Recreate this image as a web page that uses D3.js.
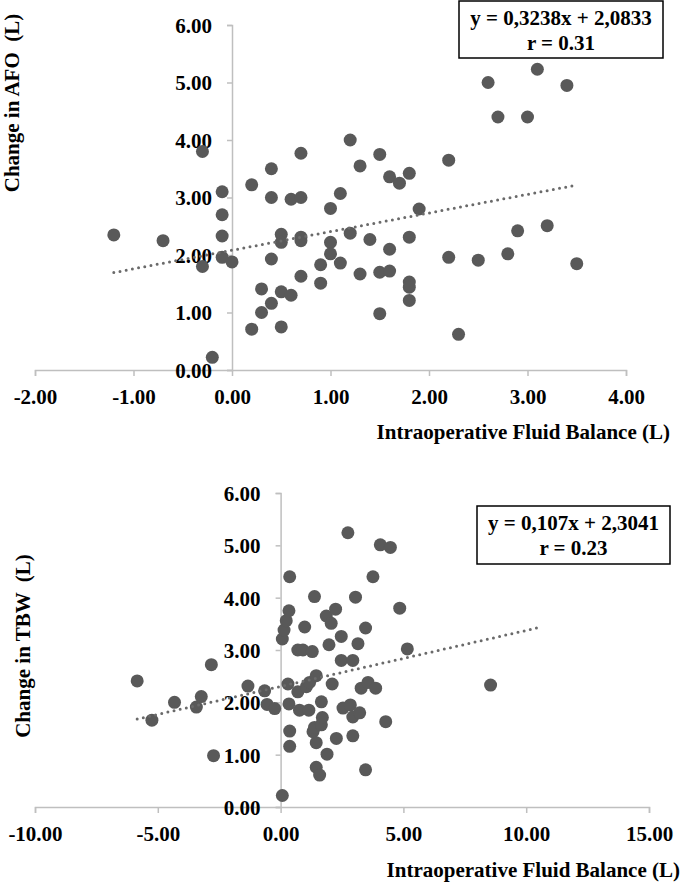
<!DOCTYPE html>
<html>
<head>
<meta charset="utf-8">
<script src="https://cdn.jsdelivr.net/npm/d3@7"></script>
<style>
  body { margin: 0; background: #fff; }
  text { font-family: "Liberation Serif", "Times New Roman", serif; font-weight: bold; fill: #000; }
</style>
</head>
<body>
<script>
// top panel: change in AFO vs intraoperative fluid balance
const afoX = [-1.2, -0.7, -0.3, -0.3, -0.2, -0.1, -0.1, -0.1, -0.1, 0.0,
  0.2, 0.2, 0.3, 0.3, 0.4, 0.4, 0.4, 0.4, 0.5, 0.5, 0.5, 0.5,
  0.6, 0.6, 0.7, 0.7, 0.7, 0.7, 0.7, 0.9, 0.9, 1.0, 1.0, 1.0,
  1.1, 1.1, 1.2, 1.2, 1.3, 1.3, 1.4, 1.5, 1.5, 1.5, 1.6, 1.6, 1.6,
  1.7, 1.8, 1.8, 1.8, 1.8, 1.8, 1.9, 2.2, 2.2, 2.3, 2.5, 2.6, 2.7,
  2.8, 2.9, 3.0, 3.1, 3.2, 3.4, 3.5];
const afoY = [2.35, 2.25, 3.8, 1.8, 0.22, 3.1, 2.7, 2.33, 1.96, 1.88,
  3.22, 0.71, 1.41, 1.0, 3.5, 3.0, 1.93, 1.16, 2.36, 2.22, 1.36, 0.75,
  2.97, 1.3, 3.77, 3.0, 2.31, 2.25, 1.63, 1.83, 1.51, 2.81, 2.22, 2.02,
  3.07, 1.86, 4.0, 2.38, 3.55, 1.67, 2.27, 3.75, 1.7, 0.98, 3.36, 2.1, 1.72,
  3.25, 3.42, 2.31, 1.53, 1.44, 1.21, 2.8, 3.65, 1.96, 0.62, 1.91, 5.0, 4.4,
  2.02, 2.42, 4.4, 5.23, 2.51, 4.95, 1.85];
const afoFit = { slope: 0.3238, intercept: 2.0833, from: -1.2, to: 3.5 };
const afoLabels = ["y = 0,3238x + 2,0833", "r = 0.31"];
const afoTicksX = [-2, -1, 0, 1, 2, 3, 4];
const afoTicksY = [0, 1, 2, 3, 4, 5, 6];

// bottom panel: change in TBW vs intraoperative fluid balance
const tbwX = [-5.84, -5.24, -4.32, -3.43, -3.23, -2.82, -2.73, -1.33, -0.65, -0.55,
  -0.24, 0.07, 0.07, 0.14, 0.23, 0.34, 0.37, 0.30, 0.34, 0.37, 0.37,
  0.70, 0.70, 0.77, 0.91, 0.98, 1.05, 1.15, 1.18, 1.29, 1.32, 1.38, 1.38,
  1.45, 1.45, 1.45, 1.59, 1.66, 1.66, 1.70, 1.86, 1.89, 1.97, 2.06, 2.10,
  2.24, 2.27, 2.47, 2.47, 2.54, 2.74, 2.84, 2.94, 2.94, 2.94, 3.05, 3.15,
  3.22, 3.28, 3.46, 3.46, 3.56, 3.76, 3.87, 4.06, 4.28, 4.47, 4.85, 5.16, 8.55];
const tbwY = [2.41, 1.66, 2.00, 1.91, 2.11, 2.72, 0.98, 2.31, 2.22, 1.96,
  1.88, 0.22, 3.21, 3.38, 3.56, 3.75, 4.40, 2.35, 1.97, 1.45, 1.16,
  3.00, 2.20, 1.85, 3.00, 3.44, 2.30, 1.85, 2.38, 2.97, 1.44, 4.02, 1.52,
  2.51, 1.23, 0.76, 0.61, 2.01, 1.57, 1.71, 3.65, 1.01, 3.10, 3.51, 2.35,
  3.78, 1.31, 3.26, 2.80, 1.89, 5.24, 1.95, 2.80, 1.72, 1.36, 4.01, 3.12,
  1.80, 2.27, 3.42, 0.71, 2.38, 4.40, 2.27, 5.01, 1.63, 4.96, 3.80, 3.02, 2.33];
const tbwFit = { slope: 0.107, intercept: 2.3041, from: -5.84, to: 10.5 };
const tbwLabels = ["y = 0,107x + 2,3041", "r = 0.23"];
const tbwTicksX = [-10, -5, 0, 5, 10, 15];
const tbwTicksY = [0, 1, 2, 3, 4, 5, 6];

const W = 685, H = 885;
// plain hyphen for negatives, like the original
const fmt = d3.formatLocale({ decimal: ".", thousands: ",", grouping: [3], currency: ["", ""], minus: "-" }).format(".2f");
const axisColor = "#bfbfbf";
const dotColor = "#595959";

const svg = d3.select("body").append("svg")
  .attr("width", W)
  .attr("height", H);

function drawPanel(o) {
  const x = d3.scaleLinear().domain(d3.extent(o.ticksX)).range([o.left, o.right]);
  const y = d3.scaleLinear().domain(d3.extent(o.ticksY)).range([o.bottom, o.top]);
  const g = svg.append("g");

  // axes cross at x = 0
  const xAxis = g.append("g")
    .attr("transform", `translate(0,${y(0)})`)
    .call(d3.axisBottom(x).tickValues(o.ticksX).tickFormat(fmt).tickSize(6).tickPadding(13));
  const yAxis = g.append("g")
    .attr("transform", `translate(${x(0)},0)`)
    .call(d3.axisLeft(y).tickValues(o.ticksY).tickFormat(fmt).tickSize(5).tickPadding(15));

  [xAxis, yAxis].forEach(a => {
    a.select(".domain").attr("stroke", axisColor).attr("stroke-width", 1.5);
    a.selectAll(".tick line").attr("stroke", axisColor).attr("stroke-width", 1.5);
    a.selectAll(".tick text")
      .attr("font-size", 21)
      .attr("font-family", "Liberation Serif, Times New Roman, serif")
      .attr("font-weight", "bold")
      .attr("fill", "#000");
  });
  yAxis.selectAll(".tick text").attr("dy", "0.35em");

  // titles
  g.append("text")
    .attr("x", o.xTitleRight)
    .attr("y", o.xTitleY)
    .attr("text-anchor", "end")
    .attr("font-size", 21)
    .text("Intraoperative Fluid Balance (L)");

  g.append("text")
    .attr("transform", `translate(${o.yTitleX},${o.yTitleY}) rotate(-90)`)
    .attr("text-anchor", "middle")
    .attr("font-size", 21)
    .style("white-space", "pre")
    .text(o.yTitle);

  // points
  g.append("g")
    .selectAll("circle")
    .data(o.xs.map((v, i) => [v, o.ys[i]]))
    .enter().append("circle")
    .attr("cx", d => x(d[0]))
    .attr("cy", d => y(d[1]))
    .attr("r", 6.5)
    .attr("fill", dotColor);

  // linear trendline, dotted
  const fit = o.fit;
  g.append("line")
    .attr("x1", x(fit.from))
    .attr("y1", y(fit.slope * fit.from + fit.intercept))
    .attr("x2", x(fit.to))
    .attr("y2", y(fit.slope * fit.to + fit.intercept))
    .attr("stroke", "#6a6a6a")
    .attr("stroke-width", 3)
    .attr("stroke-linecap", "round")
    .attr("stroke-dasharray", "0 6.3");

  // equation box
  const box = o.box;
  g.append("rect")
    .attr("x", box.x).attr("y", box.y)
    .attr("width", box.w).attr("height", box.h)
    .attr("fill", "#fff")
    .attr("stroke", "#000")
    .attr("stroke-width", 1.5);
  g.selectAll(".eq")
    .data(o.labels)
    .enter().append("text")
    .attr("x", box.x + box.w / 2)
    .attr("y", (d, i) => box.y + 24 + i * 25)
    .attr("text-anchor", "middle")
    .attr("font-size", 21)
    .text(d => d);
}

drawPanel({
  xs: afoX, ys: afoY, fit: afoFit, labels: afoLabels,
  ticksX: afoTicksX, ticksY: afoTicksY,
  left: 35, right: 626, top: 25, bottom: 370,
  xTitleRight: 670, xTitleY: 439,
  yTitle: "Change in AFO  (L)", yTitleX: 19, yTitleY: 103,
  box: { x: 459, y: 1, w: 204, h: 57 }
});

drawPanel({
  xs: tbwX, ys: tbwY, fit: tbwFit, labels: tbwLabels,
  ticksX: tbwTicksX, ticksY: tbwTicksY,
  left: 35, right: 649, top: 493, bottom: 807,
  xTitleRight: 680, xTitleY: 877,
  yTitle: "Change in TBW  (L)", yTitleX: 30, yTitleY: 646,
  box: { x: 477, y: 506, w: 193, h: 58 }
});
</script>
</body>
</html>
